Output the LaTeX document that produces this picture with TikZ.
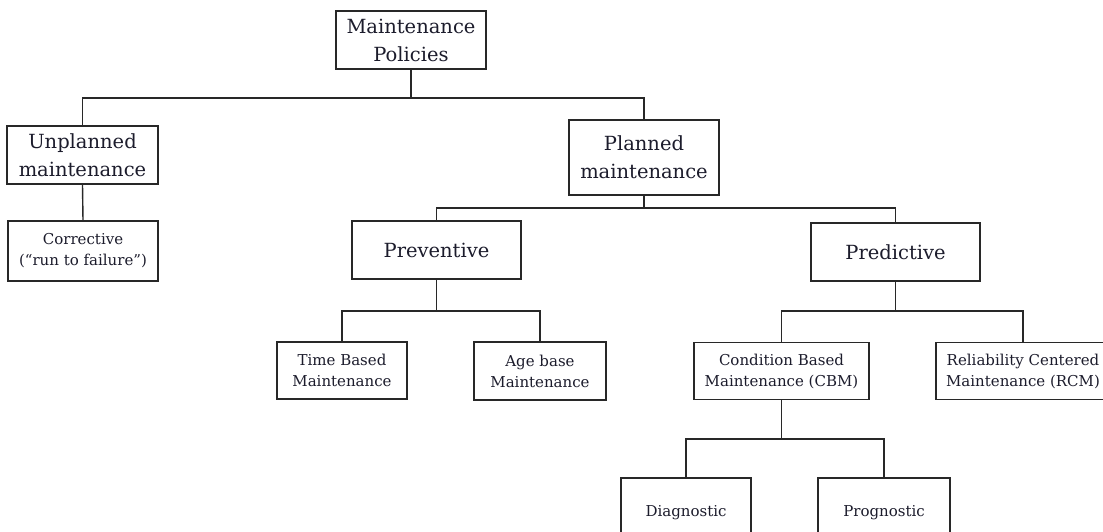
\documentclass[tikz,border=0pt]{standalone}
\usepackage{fontspec}
\setmainfont{DejaVu Serif}
\definecolor{ink}{RGB}{28,28,44}
\definecolor{edge}{RGB}{40,40,40}
\begin{document}
\begin{tikzpicture}[x=1pt,y=-1pt,line width=1.4pt,
    box/.style={draw=edge,fill=white,align=center,inner sep=2pt,text=ink},
    big/.style={box,font=\fontsize{19.5}{28}\selectfont},
    small/.style={box,font=\fontsize{15}{21}\selectfont}]
  \useasboundingbox (0,0) rectangle (1103,532);
  % top levels
  \node[big,minimum width=150,minimum height=58] (policies) at (411,40) {Maintenance\\Policies};
  \node[big,minimum width=151,minimum height=58] (unplanned) at (82.5,155) {Unplanned\\maintenance};
  \node[big,minimum width=150,minimum height=75] (planned) at (644,157.5) {Planned\\maintenance};
  \node[small,minimum width=150,minimum height=60] (corrective) at (83,251) {Corrective\\(“run to failure”)};
  \node[big,minimum width=169,minimum height=58] (preventive) at (436.5,250) {Preventive};
  \node[big,minimum width=169,minimum height=58] (predictive) at (895.5,252) {Predictive};
  % leaves
  \node[small,minimum width=130,minimum height=57] (timebased) at (342,370.5) {Time Based\\Maintenance};
  \node[small,minimum width=132,minimum height=58] (agebase) at (540,371) {Age base\\Maintenance};
  \node[small,minimum width=175,minimum height=57] (cbm) at (781.5,371) {Condition Based\\Maintenance (CBM)};
  \node[small,minimum width=174,minimum height=57] (rcm) at (1023,371) {Reliability Centered\\Maintenance (RCM)};
  \node[small,minimum width=130,minimum height=70] (diagnostic) at (686,513) {Diagnostic};
  \node[small,minimum width=132,minimum height=70] (prognostic) at (884,513) {Prognostic};
  % connectors
  \foreach \p/\a/\b/\y in {policies/unplanned/planned/98,
      planned/preventive/predictive/208,
      preventive/timebased/agebase/311,
      predictive/cbm/rcm/311,
      cbm/diagnostic/prognostic/439}
    \draw[edge] (\a.north) |- (\p.south |- 0,\y) -| (\b.north)
      (\p.south) -- (\p.south |- 0,\y);
  \draw[edge] (unplanned.south) -- (corrective.north);
\end{tikzpicture}
\end{document}
